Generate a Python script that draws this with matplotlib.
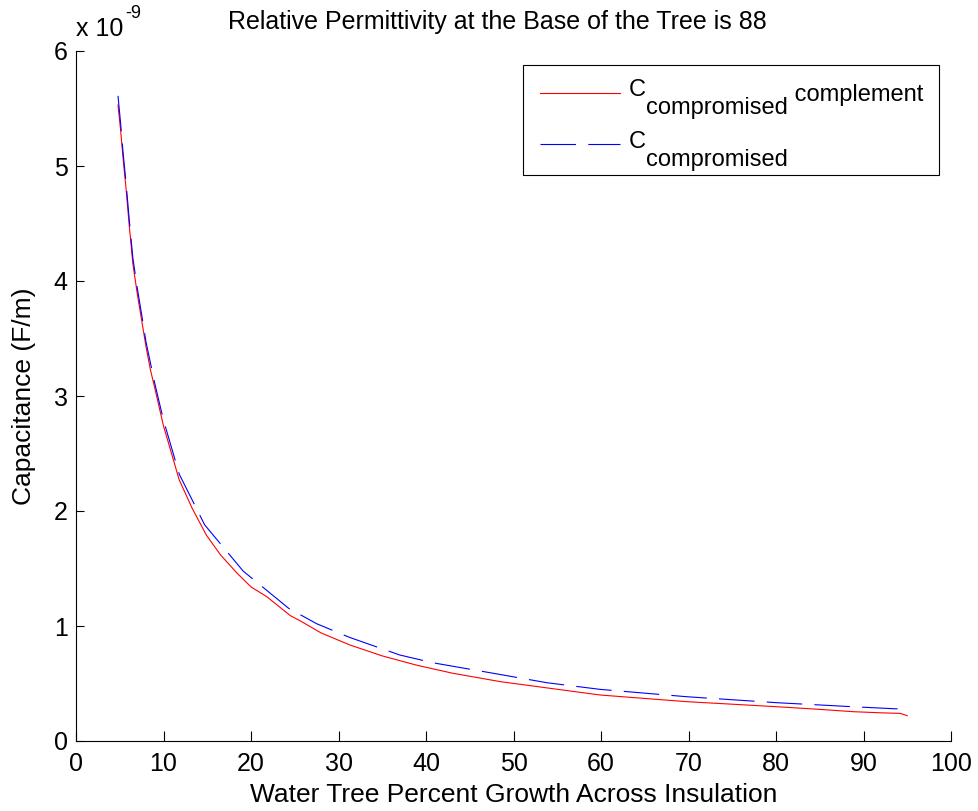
import matplotlib
matplotlib.use('Agg')
import matplotlib.pyplot as plt
from matplotlib.lines import Line2D
from matplotlib.patches import Rectangle

plt.rcParams['font.family'] = ['Liberation Sans', 'DejaVu Sans']
plt.rcParams['mathtext.fontset'] = 'custom'
plt.rcParams['mathtext.rm'] = 'Liberation Sans'

# capacitance values, in units of 1e-9 F/m
red_x = [4.8, 5.1, 5.4, 5.7, 6.1, 6.5, 7.0, 7.5, 8.0, 8.5, 9.0, 10, 11.8, 13.3,
         14.9, 16.5, 18.4, 20, 21.8, 24.5, 25.6, 28, 31.3, 35, 38.9, 43, 48.5,
         54, 59.9, 65, 69.8, 75, 80.1, 85, 88.8, 92, 94.2, 95]
red_y = [5.53, 5.31, 5.05, 4.82, 4.47, 4.15, 3.89, 3.66, 3.43, 3.23, 3.07, 2.74,
         2.27, 2.02, 1.79, 1.62, 1.46, 1.34, 1.255, 1.09, 1.046, 0.94, 0.835,
         0.74, 0.66, 0.59, 0.516, 0.46, 0.40, 0.37, 0.342, 0.32, 0.298, 0.275,
         0.255, 0.245, 0.24, 0.22]

blue_x = [4.8, 5.1, 5.4, 5.7, 6.1, 6.5, 7.0, 7.5, 8.0, 9.0, 10, 11.8, 14.7,
          19.1, 24.3, 27.5, 31.3, 37, 40.8, 47.3, 53.8, 59.9, 69.8, 80.1, 88.8, 95]
blue_y = [5.61, 5.37, 5.1, 4.87, 4.52, 4.2, 3.94, 3.71, 3.47, 3.11, 2.79, 2.32,
          1.88, 1.478, 1.154, 1.02, 0.90, 0.748, 0.68, 0.594, 0.507, 0.449,
          0.385, 0.333, 0.298, 0.275]

fig = plt.figure(figsize=(9.79, 8.11), dpi=100)
ax = fig.add_axes([76/979, 70/811, 875/979, 690/811])

ax.plot(red_x, red_y, color='red', lw=0.8)
ax.plot(blue_x, blue_y, color='blue', lw=0.8, dashes=(32, 11))

ax.set_xlim(0, 100)
ax.set_ylim(0, 6)
ax.set_xticks(range(0, 101, 10))
ax.set_yticks(range(0, 7))
for s in ['top', 'right']:
    ax.spines[s].set_visible(False)
for s in ['left', 'bottom']:
    ax.spines[s].set_linewidth(0.8)
ax.tick_params(axis='both', direction='in', labelsize=18, width=0.8)
ax.tick_params(axis='x', length=7, pad=8)
ax.tick_params(axis='y', length=6, pad=6)

ax.set_title('Relative Permittivity at the Base of the Tree is 88', fontsize=18,
             pad=16, x=0.481)
ax.set_xlabel('Water Tree Percent Growth Across Insulation', fontsize=19, labelpad=5)
ax.set_ylabel('Capacitance (F/m)', fontsize=19, labelpad=13)
xt = ax.text(0.0, 1.022, 'x 10', transform=ax.transAxes, fontsize=18,
             ha='left', va='baseline')
ax.annotate('-9', xy=(1, 1), xycoords=xt, xytext=(1, -4),
            textcoords='offset points', fontsize=13, va='bottom')

# legend drawn by hand so the subscripts stay full size
ax.add_patch(Rectangle((0.511, 0.820), 0.475, 0.160, transform=ax.transAxes,
                       facecolor='white', edgecolor='black', lw=0.8, zorder=5))
ax.add_line(Line2D([0.5303, 0.6217], [0.9387, 0.9387], transform=ax.transAxes,
                   color='red', lw=0.8, zorder=6))
ax.add_line(Line2D([0.5303, 0.6217], [0.8648, 0.8648], transform=ax.transAxes,
                   color='blue', lw=0.8, dashes=(32, 11), zorder=6))

labels = [('C', 'compromised', ' complement', 0.9348),
          ('C', 'compromised', '', 0.8599)]
for main, sub, rest, yb in labels:
    t = ax.text(0.632, yb, main, transform=ax.transAxes, fontsize=17,
                va='baseline', zorder=7)
    s = ax.annotate(sub, xy=(1, 0), xycoords=t, xytext=(0, -9.5),
                    textcoords='offset points', fontsize=17, va='baseline',
                    zorder=7)
    if rest:
        ax.annotate(rest, xy=(1, 0), xycoords=(s, t), xytext=(0, 0),
                    textcoords='offset points', fontsize=17, va='baseline',
                    zorder=7)

fig.savefig('out.png', dpi=100)
